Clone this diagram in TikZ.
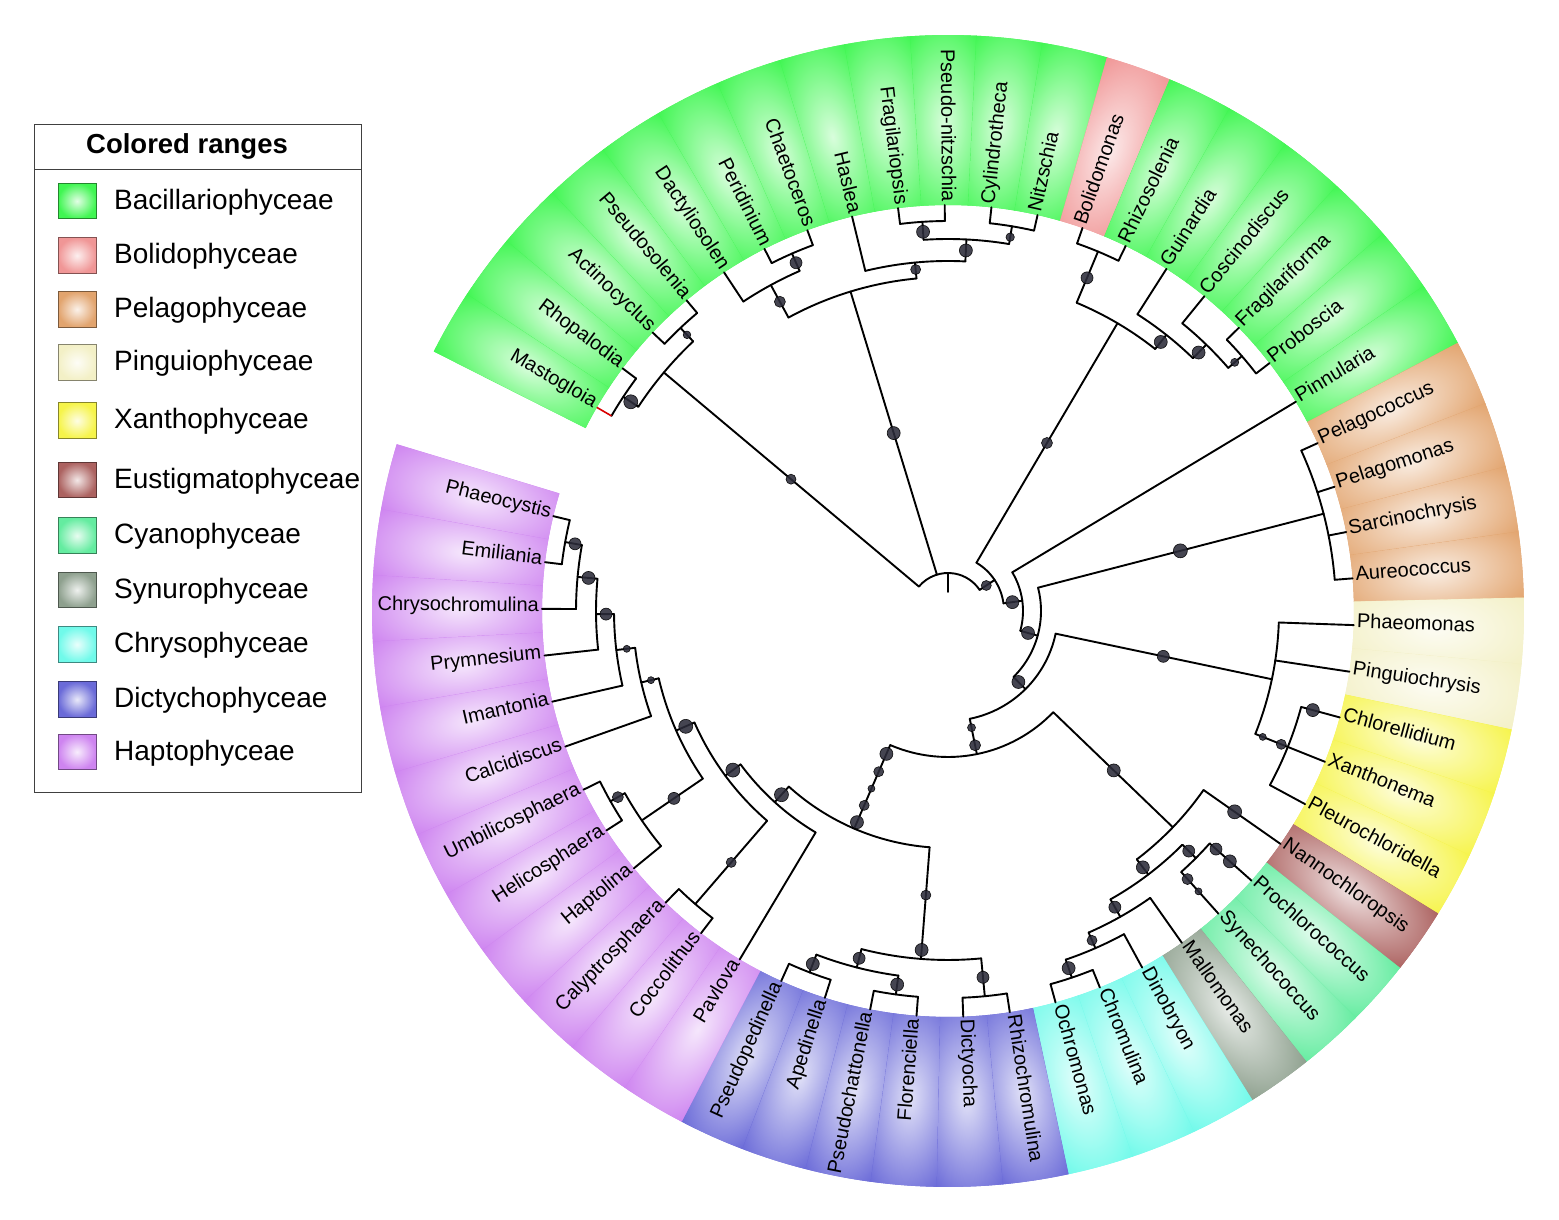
\documentclass[tikz,border=0pt]{standalone}
\usepackage{fontspec}
\setmainfont{Liberation Sans}
\definecolor{cBac}{RGB}{64,246,82}
\definecolor{cBol}{RGB}{240,150,150}
\definecolor{cPel}{RGB}{226,164,110}
\definecolor{cPin}{RGB}{243,240,198}
\definecolor{cXan}{RGB}{246,244,74}
\definecolor{cEus}{RGB}{172,98,96}
\definecolor{cCya}{RGB}{100,236,160}
\definecolor{cSyn}{RGB}{142,160,142}
\definecolor{cChr}{RGB}{112,250,234}
\definecolor{cDic}{RGB}{106,106,216}
\definecolor{cHap}{RGB}{206,132,240}
\tikzset{
 tree/.style={line width=1.9pt,line cap=round,line join=round,black},
 bdot/.style={fill={rgb,255:red,44;green,44;blue,58},fill opacity=0.88,draw=black,draw opacity=0.9,line width=0.6pt},
 lab/.style={font=\fontsize{20}{24}\selectfont,inner sep=1.5pt},
 legtxt/.style={font=\fontsize{28}{32}\selectfont,inner sep=0pt,anchor=west},
}
\newcommand\Tarc[3]{\draw[tree] (#2:#1pt) arc[start angle=#2,end angle=#3,radius=#1pt];}
\newcommand\Trad[3]{\draw[tree] (#1:#2pt) -- (#1:#3pt);}
\newcommand\Tdot[3]{\path[bdot] (#1:#2pt) circle[radius=#3pt];}
\begin{document}
\begin{tikzpicture}[x=1pt,y=1pt]
\useasboundingbox (0,0) rectangle (1559,1220);
\fill[white] (0,0) rectangle (1559,1220);
% ---------- coloured ring ----------
\foreach \c [count=\i from 0] in {cBac,cBac,cBac,cBac,cBac,cBac,cBac,cBac,cBac,cBac,cBac,cBac,cBol,cBac,cBac,cBac,cBac,cBac,cBac,cPel,cPel,cPel,cPel,cPin,cPin,cXan,cXan,cXan,cEus,cCya,cCya,cSyn,cChr,cChr,cChr,cDic,cDic,cDic,cDic,cDic,cDic,cHap,cHap,cHap,cHap,cHap,cHap,cHap,cHap,cHap,cHap,cHap,cHap} {
  \pgfmathsetmacro\myang{153.2-(\i+0.5)*6.604}
  \begin{scope}[transform canvas={shift={(948pt,609pt)},rotate=\myang}]
    \fill[\c] (-3.33:406pt) arc[start angle=-3.33,end angle=3.33,radius=406pt] -- (3.33:576pt) arc[start angle=3.33,end angle=-3.33,radius=576pt] -- cycle;
    \begin{scope}
      \clip (-3.31:406pt) arc[start angle=-3.31,end angle=3.31,radius=406pt] -- (3.31:576pt) arc[start angle=3.31,end angle=-3.31,radius=576pt] -- cycle;
      \shade[inner color=white!80!\c, outer color=\c] (488pt,0pt) ellipse[x radius=110pt, y radius=56pt];
    \end{scope}
  \end{scope}
}
% ---------- tree ----------
\begin{scope}[shift={(948,609)}]
% root
\Tarc{38}{139.99}{33.66}
\Trad{90}{38}{19}
% first diatom clade
\Trad{139.99}{38}{371}
\Tarc{371}{146.596}{133.388}
\Trad{146.596}{371}{389}
\Tarc{389}{149.898}{143.294}
\draw[line width=1.6pt,red!85!black] (149.898:389pt) -- (149.898:406pt);
\Trad{143.294}{389}{406}
\Trad{133.388}{371}{389.5}
\Tarc{389.5}{136.690}{130.086}
\Trad{136.690}{389.5}{406}
\Trad{130.086}{389.5}{406}
% second diatom clade
\Trad{106.972}{38}{334}
\Tarc{334}{118.529}{95.415}
\Trad{118.529}{334}{371}
\Tarc{371}{123.482}{113.576}
\Trad{123.482}{371}{406}
\Trad{113.576}{371}{390}
\Tarc{390}{116.878}{110.274}
\Trad{116.878}{390}{406}
\Trad{110.274}{390}{406}
\Trad{95.415}{334}{350}
\Tarc{350}{103.670}{87.160}
\Trad{103.670}{350}{406}
\Trad{87.160}{350}{372}
\Tarc{372}{93.764}{80.556}
\Trad{93.764}{372}{390}
\Tarc{390}{97.066}{90.462}
\Trad{97.066}{390}{406}
\Trad{90.462}{390}{406}
\Trad{80.556}{372}{390}
\Tarc{390}{83.858}{77.254}
\Trad{83.858}{390}{406}
\Trad{77.254}{390}{406}
% n_A
\Trad{33.66}{38}{56}
\Tarc{56}{59.5}{7.829}
\Trad{59.5}{56}{334}
\Tarc{334}{67.348}{51.66}
\Trad{67.348}{334}{389.5}
\Tarc{389.5}{70.650}{64.046}
\Trad{70.650}{389.5}{406}
\Trad{64.046}{389.5}{406}
\Trad{51.66}{334}{352}
\Tarc{352}{57.442}{45.885}
\Trad{57.442}{352}{406}
\Trad{45.885}{352}{371}
\Tarc{371}{50.838}{40.932}
\Trad{50.838}{371}{406}
\Trad{40.932}{371}{389}
\Tarc{389}{44.234}{37.630}
\Trad{44.234}{389}{406}
\Trad{37.630}{389}{406}
% n_B, n_C
\Trad{7.829}{56}{75}
\Tarc{75}{31.026}{-15.368}
\Trad{31.026}{75}{406}
\Trad{-15.368}{75}{93}
\Tarc{93}{14.516}{-45.252}
\Trad{14.516}{93}{388}
\Tarc{388}{24.422}{4.610}
\Trad{24.422}{388}{406}
\Trad{17.818}{388}{406}
\Trad{11.214}{388}{406}
\Trad{4.610}{388}{406}
% n_E
\Trad{-45.252}{93}{110}
\Tarc{110}{-11.9}{-78.604}
\Trad{-11.9}{110}{331}
\Tarc{331}{-1.994}{-21.806}
\Trad{-1.994}{331}{406}
\Trad{-8.598}{331}{406}
\Trad{-21.806}{331}{406}
\Tarc{366}{-15.202}{-28.410}
\Trad{-15.202}{366}{406}
\Trad{-28.410}{366}{406}
% n_F
\Trad{-78.604}{110}{146}
\Tarc{146}{-43.888}{-113.32}
\Trad{-43.888}{146}{312}
\Tarc{312}{-35.014}{-52.762}
\Trad{-35.014}{312}{406}
\Trad{-52.762}{312}{331}
\Tarc{331}{-44.92}{-60.6045}
\Trad{-44.92}{331}{350}
\Tarc{350}{-41.618}{-48.222}
\Trad{-41.618}{350}{406}
\Trad{-48.222}{350}{406}
\Trad{-60.6045}{331}{351}
\Tarc{351}{-54.826}{-66.383}
\Trad{-54.826}{351}{406}
\Trad{-66.383}{351}{368}
\Tarc{368}{-61.430}{-71.336}
\Trad{-61.430}{368}{406}
\Trad{-71.336}{368}{387}
\Tarc{387}{-68.034}{-74.638}
\Trad{-68.034}{387}{406}
\Trad{-74.638}{387}{406}
% n_H
\Trad{-113.32}{146}{237}
\Tarc{237}{-94.45}{-132.191}
\Trad{-94.45}{237}{349}
\Tarc{349}{-84.544}{-104.356}
\Trad{-84.544}{349}{387}
\Tarc{387}{-81.242}{-87.846}
\Trad{-81.242}{387}{406}
\Trad{-87.846}{387}{406}
\Trad{-104.356}{349}{368}
\Tarc{368}{-97.752}{-110.96}
\Trad{-97.752}{368}{387}
\Tarc{387}{-94.450}{-101.054}
\Trad{-94.450}{387}{406}
\Trad{-101.054}{387}{406}
\Trad{-110.96}{368}{387}
\Tarc{387}{-107.658}{-114.262}
\Trad{-107.658}{387}{406}
\Trad{-114.262}{387}{406}
% haptophytes
\Trad{-132.191}{237}{258}
\Tarc{258}{-120.866}{-143.516}
\Trad{-120.866}{258}{406}
\Trad{-143.516}{258}{277}
\Tarc{277}{-130.772}{-156.26}
\Trad{-130.772}{277}{387}
\Tarc{387}{-127.470}{-134.074}
\Trad{-127.470}{387}{406}
\Trad{-134.074}{387}{406}
\Trad{-156.26}{277}{297}
\Tarc{297}{-145.631}{-166.888}
\Trad{-145.631}{297}{371}
\Tarc{371}{-140.678}{-150.584}
\Trad{-140.678}{371}{406}
\Trad{-150.584}{371}{387.5}
\Tarc{387.5}{-147.282}{-153.886}
\Trad{-147.282}{387.5}{406}
\Trad{-153.886}{387.5}{406}
\Trad{-166.888}{297}{315}
\Tarc{315}{-160.490}{-173.285}
\Trad{-160.490}{315}{406}
\Trad{-173.285}{315}{334}
\Tarc{334}{-167.094}{-179.4765}
\Trad{-167.094}{334}{406}
\Trad{-179.4765}{334}{352}
\Tarc{352}{-173.698}{-185.255}
\Trad{-173.698}{352}{406}
\Trad{-185.255}{352}{372}
\Tarc{372}{-180.302}{-190.208}
\Trad{-180.302}{372}{406}
\Trad{-190.208}{372}{389}
\Tarc{389}{-186.906}{-193.510}
\Trad{-186.906}{389}{406}
\Trad{-193.510}{389}{406}
% ---------- support dots ----------
\Tdot{139.99}{205}{5}
\Tdot{146.596}{380}{7}
\Tdot{133.388}{380}{3.8}
\Tdot{106.972}{186}{6.5}
\Tdot{118.529}{352}{5.5}
\Tdot{113.576}{380}{6}
\Tdot{95.415}{343}{5}
\Tdot{87.160}{361}{6.5}
\Tdot{93.764}{380}{6.5}
\Tdot{80.556}{379}{4.2}
\Tdot{33.66}{46}{5}
\Tdot{59.5}{195}{5.5}
\Tdot{67.348}{361}{6}
\Tdot{51.66}{343}{6.5}
\Tdot{45.885}{360}{6.5}
\Tdot{40.932}{379.5}{4}
\Tdot{7.829}{65}{6.5}
\Tdot{-15.368}{83}{6.5}
\Tdot{14.516}{240}{7}
\Tdot{-45.252}{100}{6.5}
\Tdot{-11.9}{220}{6}
\Tdot{-21.806}{339}{3.5}
\Tdot{-21.806}{359}{5}
\Tdot{-15.202}{378}{6.5}
\Tdot{-78.604}{119}{4}
\Tdot{-78.604}{137}{5.5}
\Tdot{-43.888}{230}{6.5}
\Tdot{-35.014}{350}{7}
\Tdot{-52.762}{322}{6.5}
\Tdot{-44.92}{340}{6}
\Tdot{-41.618}{358.5}{6}
\Tdot{-41.618}{377}{6.5}
\Tdot{-48.222}{359.5}{5.5}
\Tdot{-48.222}{376}{3.5}
\Tdot{-60.6045}{340}{6}
\Tdot{-66.383}{359.5}{5}
\Tdot{-71.336}{377}{6.5}
\Tdot{-113.32}{155.6}{6.5}
\Tdot{-113.32}{175}{5}
\Tdot{-113.32}{193.4}{3.5}
\Tdot{-113.32}{211.7}{5}
\Tdot{-113.32}{230}{6.5}
\Tdot{-94.45}{285}{5}
\Tdot{-94.45}{340}{6.5}
\Tdot{-84.544}{368}{6}
\Tdot{-104.356}{358.5}{6}
\Tdot{-97.752}{377}{6.5}
\Tdot{-110.96}{378}{6.5}
\Tdot{-132.191}{248}{7}
\Tdot{-143.516}{267.6}{7}
\Tdot{-130.772}{332}{5}
\Tdot{-156.26}{286.5}{7}
\Tdot{-145.631}{332}{6}
\Tdot{-150.584}{379}{5.5}
\Tdot{-166.888}{305}{3.5}
\Tdot{-173.285}{323.5}{3.5}
\Tdot{-179.4765}{342}{6}
\Tdot{-185.255}{361}{6.5}
\Tdot{-190.208}{379}{6}
% ---------- leaf labels ----------
\foreach \n [count=\i from 0] in {Mastogloia,Rhopalodia,Actinocyclus,Pseudosolenia,Dactyliosolen,Peridinium,Chaetoceros,Haslea,Fragilariopsis,Pseudo-nitzschia,Cylindrotheca,Nitzschia,Bolidomonas,Rhizosolenia,Guinardia,Coscinodiscus,Fragilariforma,Proboscia,Pinnularia,Pelagococcus,Pelagomonas,Sarcinochrysis,Aureococcus,Phaeomonas,Pinguiochrysis,Chlorellidium,Xanthonema,Pleurochloridella,Nannochloropsis,Prochlorococcus,Synechococcus,Mallomonas,Dinobryon,Chromulina,Ochromonas,Rhizochromulina,Dictyocha,Florenciella,Pseudochattonella,Apedinella,Pseudopedinella,Pavlova,Coccolithus,Calyptrosphaera,Haptolina,Helicosphaera,Umbilicosphaera,Calcidiscus,Imantonia,Prymnesium,Chrysochromulina,Emiliania,Phaeocystis} {
  \pgfmathsetmacro\myang{153.2-(\i+0.5)*6.604}
  \pgfmathtruncatemacro\rside{ifthenelse(abs(\myang)<90,1,0)}
  \ifnum\rside=1
    \node[lab,anchor=mid west,rotate=\myang] (L\i) at (\myang:407.5pt) {\n};
  \else
    \pgfmathsetmacro\myrot{\myang+180}
    \node[lab,anchor=mid east,rotate=\myrot] (L\i) at (\myang:407.5pt) {\n};
  \fi
}
\end{scope}
% ---------- legend ----------
\draw[line width=1pt,black!75] (34,427) rectangle (361,1095);
\draw[line width=1pt,black!75] (34,1050) -- (361,1050);
\node[font=\bfseries\fontsize{27.5}{32}\selectfont,inner sep=0pt] (ltitle) at (187,1074) {Colored ranges};
\foreach \c/\t/\y [count=\k] in {cBac/Bacillariophyceae/1019,cBol/Bolidophyceae/964.5,cPel/Pelagophyceae/910.6,cPin/Pinguiophyceae/857.5,cXan/Xanthophyceae/799.4,cEus/Eustigmatophyceae/740,cCya/Cyanophyceae/684.3,cSyn/Synurophyceae/630,cChr/Chrysophyceae/575.5,cDic/Dictychophyceae/520.5,cHap/Haptophyceae/468.1} {
  \shade[inner color=white!85!\c,outer color=\c,draw=\c!55!black,line width=1pt] (58,\y-17.8) rectangle (96,\y+17.8);
  \node[legtxt] (leg\k) at (114,\y-1) {\t};
}
\end{tikzpicture}
\end{document}
